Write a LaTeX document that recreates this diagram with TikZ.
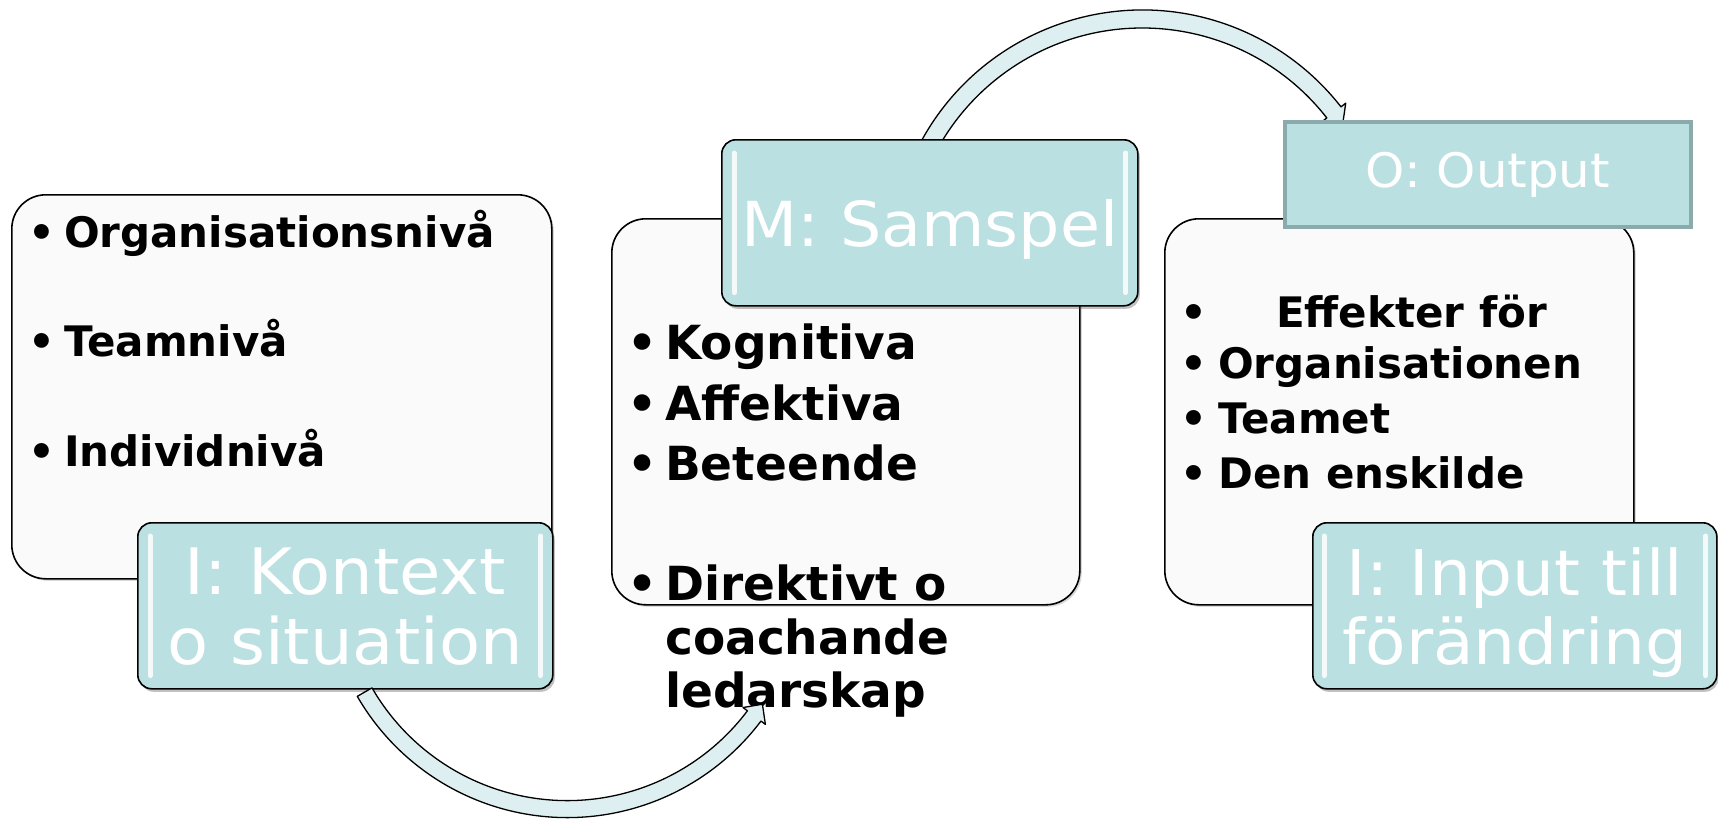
\documentclass[tikz,border=0pt]{standalone}
\usepackage{fontspec}
\setmainfont{DejaVu Sans}
\newfontfamily\tagfont{DejaVu Sans}[FakeStretch=1.05]
\usetikzlibrary{shadows}
\definecolor{tealfill}{HTML}{BBE0E2}
\definecolor{tealedge}{HTML}{8BAAAC}
\definecolor{arrowfill}{HTML}{DDEFF0}
\definecolor{panelfill}{HTML}{FAFAFA}

\tikzset{
  panel/.style={draw=black, line width=1.6pt, fill=panelfill, rounded corners=34pt,
    anchor=north west, inner sep=0pt,
    drop shadow={shadow xshift=2pt, shadow yshift=-2pt, opacity=0.15, fill=black}},
  tag/.style={draw=black, line width=1.6pt, fill=tealfill, rounded corners=14pt,
    anchor=north west, inner sep=0pt, text=white, align=center, text depth=0pt,
    drop shadow={shadow xshift=2pt, shadow yshift=-3pt, opacity=0.35, fill=black!70}},
  gloss/.style={white, line width=5pt, line cap=round, opacity=0.85},
  item/.style={anchor=base west, inner sep=0pt},
  leftitem/.style={item, font=\bfseries\fontsize{42}{50}\selectfont},
  miditem/.style={item, font=\bfseries\fontsize{47}{55}\selectfont},
  rightitem/.style={item, font=\bfseries\fontsize{42}{50}\selectfont},
  curvearrow/.style={draw=black, line width=1.3pt, fill=arrowfill, line join=round},
}
\newcommand{\bul}[2]{\makebox[#1pt][l]{•}#2}
\newcommand{\glossbars}[2]{%
  \draw[gloss] ([xshift=#2pt,yshift=-14pt]#1.north west) -- ([xshift=#2pt,yshift=14pt]#1.south west);
  \draw[gloss] ([xshift=-#2pt,yshift=-14pt]#1.north east) -- ([xshift=-#2pt,yshift=14pt]#1.south east);}

\begin{document}
\begin{tikzpicture}[x=1pt, y=-1pt]
  \useasboundingbox (0,0) rectangle (1718,819);

  % upper curved arrow: Samspel -> Output (its head tucks under the Output box)
  \coordinate (topc) at (1142.4,262);
  \path[curvearrow] ([shift={(-155:252)}]topc) arc[start angle=-155, end angle=-38, radius=252]
    -- ([shift={(-38:258)}]topc) -- ([shift={(-34.5:243)}]topc)
    -- ([shift={(-38:228)}]topc) -- ([shift={(-38:234)}]topc)
    arc[start angle=-38, end angle=-155, radius=234] -- cycle;

  % left panel: context
  \node[panel, minimum width=540pt, minimum height=384pt] (lp) at (11,194) {};
  \node[leftitem] (l1) at (28,247) {\bul{36}{Organisationsnivå}};
  \node[leftitem] (l2) at (28,356) {\bul{36}{Teamnivå}};
  \node[leftitem] (l3) at (28,466) {\bul{36}{Individnivå}};
  \node[tag, minimum width=415pt, minimum height=166pt,
        font=\tagfont\fontsize{64}{70}\selectfont] (ctx) at (137,522) {I: Kontext\\o situation};
  \glossbars{ctx}{13}

  % middle panel: interaction
  \node[panel, minimum width=468pt, minimum height=386pt] (mp) at (611,218) {};
  \node[tag, minimum width=416pt, minimum height=166pt,
        font=\tagfont\fontsize{62}{70}\selectfont] (sam) at (721,139) {M: Samspel};
  \glossbars{sam}{13}
  \node[miditem] (m1) at (627,359) {\bul{38}{Kognitiva}};
  \node[miditem] (m2) at (627,420) {\bul{38}{Affektiva}};
  \node[miditem] (m3) at (627,480) {\bul{38}{Beteende}};
  \node[miditem] (m4) at (627,600) {\bul{38}{Direktivt o}};
  \node[miditem] (m5) at (665,654) {coachande};
  \node[miditem] (m6) at (665,707) {ledarskap};

  % right panel: output
  \node[panel, minimum width=469pt, minimum height=386pt] (rp) at (1164,218) {};
  \node[rightitem] (r1) at (1180,327) {\bul{96}{Effekter för}};
  \node[rightitem] (r2) at (1180,378) {\bul{38}{Organisationen}};
  \node[rightitem] (r3) at (1180,433) {\bul{38}{Teamet}};
  \node[rightitem] (r4) at (1180,488) {\bul{38}{Den enskilde}};
  \node[anchor=north west, draw=tealedge, line width=4pt, fill=tealfill,
        minimum width=406pt, minimum height=105pt, inner sep=0pt, text=white,
        font=\tagfont\fontsize{47.5}{54}\selectfont] (out) at (1283,120) {O: Output};
  \node[tag, minimum width=404pt, minimum height=166pt,
        font=\tagfont\fontsize{63}{69}\selectfont] (inp) at (1312,522) {I: Input till\\förändring};
  \glossbars{inp}{12}

  % lower curved arrow: Kontext -> Samspel
  \coordinate (botc) at (567.3,575.1);
  \path[curvearrow] ([shift={(150:242.5)}]botc) arc[start angle=150, end angle=37, radius=242.5]
    -- ([shift={(37:248)}]botc) -- ([shift={(33.5:234)}]botc)
    -- ([shift={(37:220)}]botc) -- ([shift={(37:225.5)}]botc)
    arc[start angle=37, end angle=150, radius=225.5] -- cycle;
\end{tikzpicture}
\end{document}
